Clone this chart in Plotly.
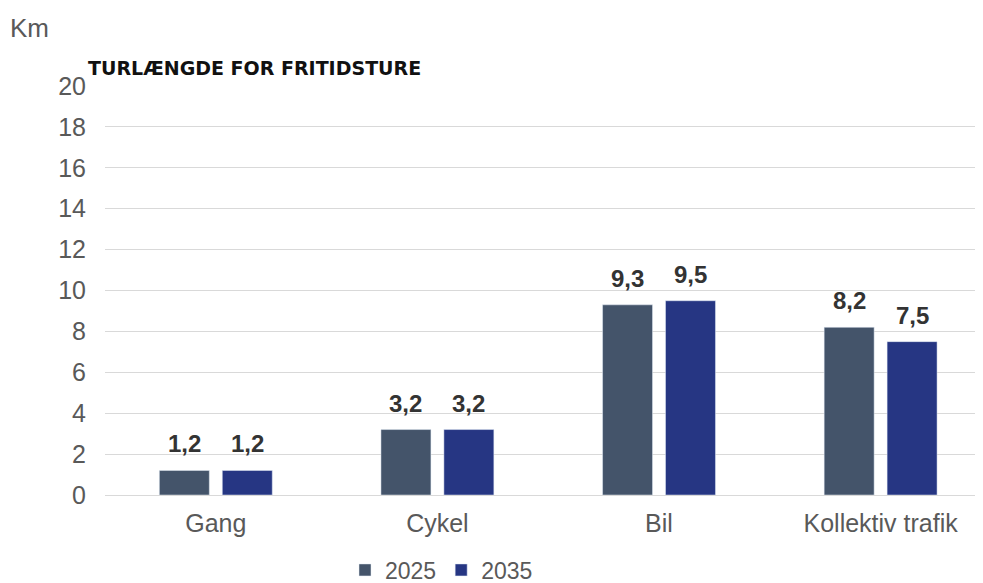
import plotly.graph_objects as go

categories = ["Gang", "Cykel", "Bil", "Kollektiv trafik"]
v2025 = [1.2, 3.2, 9.3, 8.2]
v2035 = [1.2, 3.2, 9.5, 7.5]
yticks = [0, 2, 4, 6, 8, 10, 12, 14, 16, 18, 20]

def fmt(v):
    return f"{v:.1f}".replace(".", ",")

W, H = 975, 575
L, R, T, B = 97, 0, 78, 88
pw, ph = W - L - R, H - T - B

def px_x(x):
    return (x - L) / pw

def px_y(y):
    return (H - B - y) / ph

lblfont = dict(size=24, color="#333333", family="Liberation Sans, Arial", weight="bold")

fig = go.Figure()
fig.add_trace(go.Bar(x=categories, y=v2025, name="2025", marker_color="#44546a"))
fig.add_trace(go.Bar(x=categories, y=v2035, name="2035", marker_color="#263683"))

annotations = []
for vals, xs in ((v2025, -31.5), (v2035, 31.5)):
    for c, v in zip(categories, vals):
        annotations.append(dict(x=c, y=v, xref="x", yref="y", text="<b>" + fmt(v) + "</b>",
                                showarrow=False, xshift=xs, yshift=11, yanchor="bottom",
                                font=lblfont))

annotations += [
    dict(text="Km", xref="paper", yref="paper", x=px_x(0), y=px_y(20), xanchor="left",
         yanchor="middle", showarrow=False, font=dict(size=26, color="#595959")),
    dict(text="<b>TURLÆNGDE FOR FRITIDSTURE</b>", xref="paper", yref="paper",
         x=px_x(78), y=px_y(60), xanchor="left", yanchor="middle", showarrow=False,
         font=dict(size=19, color="#111111", family="DejaVu Sans, sans-serif")),
]

fig.update_layout(
    width=W, height=H,
    margin=dict(l=L, r=R, t=T, b=B, autoexpand=False),
    plot_bgcolor="white", paper_bgcolor="white",
    barmode="group", bargap=0.432, bargroupgap=0.206,
    font=dict(family="Liberation Sans, Arial", color="#595959", size=25),
    showlegend=True,
    legend=dict(orientation="h", x=px_x(337), xanchor="left", y=px_y(562), yanchor="middle",
                font=dict(size=23, color="#595959"), itemwidth=30, traceorder="normal"),
    xaxis=dict(range=[-0.5, 3.462], showgrid=False, showline=True, linecolor="#d9d9d9",
               linewidth=1, tickfont=dict(size=25, color="#595959"), ticks="",
               ticklabelstandoff=6),
    yaxis=dict(range=[0, 20], tickvals=yticks, showgrid=True, gridcolor="#d9d9d9",
               gridwidth=1, zeroline=False, tickfont=dict(size=25, color="#595959"),
               ticks="", ticklabelstandoff=18),
    annotations=annotations,
)
fig.write_html("out.html")
